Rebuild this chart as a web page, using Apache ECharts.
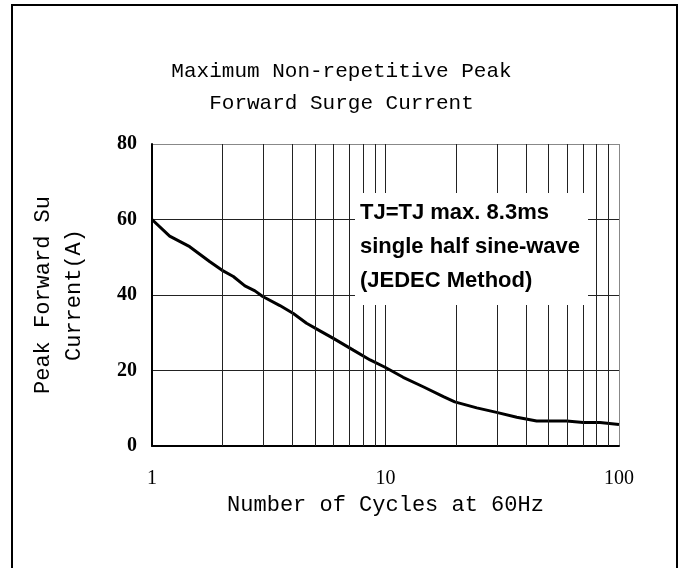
<!DOCTYPE html>
<html>
<head>
<meta charset="utf-8">
<title>Forward Surge Current</title>
<script src="https://cdn.jsdelivr.net/npm/echarts@6.0.0/dist/echarts.min.js"></script>
<style>
  html, body { margin: 0; padding: 0; background: #fff; }
  #chart { width: 683px; height: 568px; }
</style>
</head>
<body>
<div id="chart"></div>
<script>
  // cycles at 60Hz (log axis) and peak surge current in A
  var cycles = [1, 1.19, 1.45, 1.77, 1.99, 2.23, 2.5, 2.76, 2.98, 3.53, 4.03, 4.59, 5.24, 5.98,
    7.28, 8.59, 10, 11.9, 14.5, 17.7, 19.8, 24.6, 29.9, 36.5, 44.4, 59.7, 70.3, 82.9, 100]
  var current = [60, 55.6, 52.8, 48.8, 46.6, 44.9, 42.4, 41.1, 39.6, 37.2, 35.1, 32.5, 30.5, 28.5,
    25.4, 22.8, 20.8, 18.2, 15.7, 13.1, 11.7, 10.1, 8.9, 7.6, 6.6, 6.6, 6.2, 6.2, 5.7]
  // minor log grid lines between the decades
  var minorTicks = [2, 3, 4, 5, 6, 7, 8, 9, 20, 30, 40, 50, 60, 70, 80, 90]
  var titleLines = ['Maximum Non-repetitive Peak', 'Forward Surge Current']
  var noteLines = ['TJ=TJ max. 8.3ms', 'single half sine-wave', '(JEDEC Method)']

  var chart = echarts.init(document.getElementById('chart'))
  var mono = '"Liberation Mono", "DejaVu Sans Mono", monospace'
  var serif = '"Liberation Serif", "DejaVu Serif", serif'

  var option = {
    animation: false,
    backgroundColor: '#fff',
    title: {
      text: titleLines.join('\n'),
      left: 'center',
      top: 50,
      textStyle: {
        fontFamily: mono,
        fontSize: 21,
        fontWeight: 'normal',
        color: '#000',
        lineHeight: 32
      }
    },
    grid: {
      left: 152,
      right: 64,
      top: 144,
      bottom: 122,
      containLabel: false
    },
    xAxis: {
      type: 'log',
      logBase: 10,
      min: 1,
      max: 100,
      name: 'Number of Cycles at 60Hz',
      nameLocation: 'middle',
      nameGap: 47,
      nameTextStyle: { fontFamily: mono, fontSize: 22, color: '#000' },
      axisLine: { lineStyle: { color: '#000', width: 2 } },
      axisTick: { show: false },
      axisLabel: { fontFamily: serif, fontSize: 20, color: '#000', margin: 23 },
      splitLine: { show: true, lineStyle: { color: ['#222', '#222', '#888'], width: 1 } }
    },
    yAxis: {
      type: 'value',
      min: 0,
      max: 80,
      interval: 20,
      name: 'Peak Forward Su\nCurrent(A)',
      nameLocation: 'middle',
      nameGap: 62,
      nameRotate: 90,
      nameTextStyle: { fontFamily: mono, fontSize: 22, color: '#000', lineHeight: 31 },
      axisLine: { show: true, lineStyle: { color: '#000', width: 2 } },
      axisTick: { show: false },
      axisLabel: { fontFamily: serif, fontSize: 20, fontWeight: 'bold', color: '#000', margin: 15 },
      splitLine: { show: true, lineStyle: { color: ['#222', '#222', '#222', '#222', '#888'], width: 1 } }
    },
    series: [{
      type: 'line',
      data: cycles.map(function (c, i) { return [c, current[i]] }),
      showSymbol: false,
      smooth: false,
      lineStyle: { color: '#000', width: 3 },
      z: 3,
      markLine: {
        silent: true,
        symbol: ['none', 'none'],
        label: { show: false },
        lineStyle: { type: 'solid', color: '#222', width: 1 },
        emphasis: { disabled: true },
        data: minorTicks.map(function (t) { return { xAxis: t } })
      }
    }],
    graphic: [
      {
        // outer frame, open at the bottom
        type: 'rect',
        z: 20,
        silent: true,
        shape: { x: 12, y: 5, width: 665, height: 700 },
        style: { fill: 'none', stroke: '#000', lineWidth: 2 }
      },
      {
        // white box behind the test conditions note
        type: 'rect',
        z: 10,
        silent: true,
        shape: { x: 355, y: 193, width: 233, height: 112 },
        style: { fill: '#fff' }
      },
      {
        type: 'text',
        z: 11,
        silent: true,
        x: 360,
        y: 196,
        style: {
          text: noteLines.join('\n'),
          fontFamily: '"Liberation Sans", Arial, sans-serif',
          fontWeight: 'bold',
          fontSize: 22,
          lineHeight: 34,
          fill: '#000',
          verticalAlign: 'top',
          align: 'left'
        }
      }
    ]
  }

  chart.setOption(option, true)
</script>
</body>
</html>
